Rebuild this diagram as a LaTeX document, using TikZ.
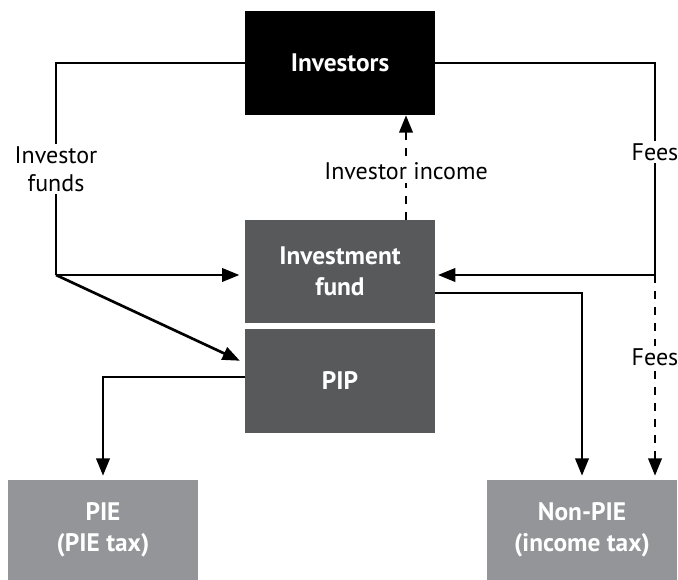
\documentclass[tikz,border=0pt]{standalone}
\usepackage{fontspec}
\setmainfont{PT Sans}
\usepackage{tikz}
\usetikzlibrary{positioning}
\usetikzlibrary{arrows.meta}

\definecolor{darkbox}{HTML}{58595B}
\definecolor{lightbox}{HTML}{939598}

\begin{document}
\begin{tikzpicture}
    [ x=0.75pt, y=-0.75pt,
    every node/.style={font=\fontsize{18}{21}\selectfont, align=center},
    box/.style={rectangle, minimum width=142.5pt, text=white, font=\fontsize{19}{23}\selectfont\bfseries},
    top/.style={box, fill=black, minimum height=78pt},
    mid/.style={box, fill=darkbox, minimum height=77.5pt},
    low/.style={box, fill=lightbox, minimum height=75pt},
    flow/.style={line width=2pt, -{Triangle[length=13pt,width=10pt]}},
    link/.style={line width=2pt},
    gap/.style={fill=white, inner sep=2pt}
    ]

    \useasboundingbox (0,0) rectangle (678,580);

    \node[top] (inv)    at (340,63)    {Investors};
    \node[mid] (fund)   at (340,271.5) {Investment\\fund};
    \node[mid] (pip)    at (340,381)   {PIP};
    \node[low] (pie)    at (103,530)   {PIE\\(PIE tax)};
    \node[low] (nonpie) at (582,530)   {Non-PIE\\(income tax)};

    \coordinate (lc) at (56,275);
    \coordinate (rc) at (655,275);

    % investor funds
    \draw [link] (inv.west) -| node [gap, pos=0.75] {Investor\\funds} (lc);
    \draw [flow, shorten >=4pt] (lc) -- (fund.west |- lc);
    \draw [flow, shorten >=4pt] (lc) -- (pip.west |- 0,363);

    % fees
    \draw [link] (inv.east) -| node [gap, pos=0.71] {Fees} (rc);
    \draw [flow, shorten >=2pt] (rc) -- (fund.east |- rc);
    \draw [flow, dashed, dash pattern=on 6pt off 6pt, shorten >=3pt] (rc) -- node [gap, pos=0.4] {Fees} (nonpie.north -| rc);

    % investor income
    \draw [flow, dashed, dash pattern=on 6pt off 6pt] (fund.north -| 406,0) -- node [gap, pos=0.46] {Investor income} (inv.south -| 406,0);

    \draw [flow, shorten >=3pt] (fund.east |- 0,293) -| (nonpie.north);
    \draw [flow, shorten >=3pt] (pip.west |- 0,377) -| (pie.north);
  \end{tikzpicture}
\end{document}
